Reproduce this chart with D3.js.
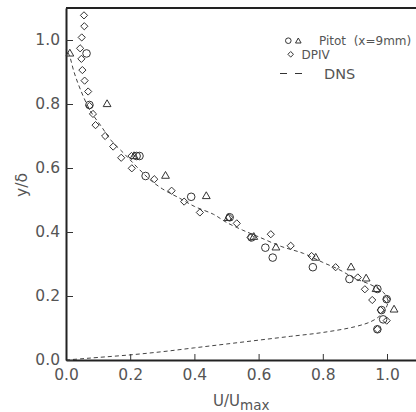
<!DOCTYPE html>
<html><head><meta charset="utf-8">
<script src="https://cdn.jsdelivr.net/npm/d3@7"></script>
<style>body{margin:0;background:#fff;} svg{display:block;font-family:"DejaVu Sans",sans-serif;} text{white-space:pre;}</style>
</head><body>
<svg id="c" width="416" height="412"></svg>
<script>
// Pitot circles (u, y)
const pitotCircleU = [0.064,0.073,0.220,0.229,0.248,0.390,0.510,0.578,0.621,0.644,0.769,0.883,0.970,0.999,0.983,0.988,0.970];
const pitotCircleY = [0.958,0.797,0.6375,0.6375,0.575,0.510,0.446,0.383,0.351,0.320,0.290,0.253,0.222,0.190,0.156,0.127,0.096];
// Pitot triangles
const pitotTriU = [0.012,0.128,0.212,0.310,0.437,0.505,0.585,0.654,0.778,0.888,0.935,0.966,1.022];
const pitotTriY = [0.958,0.800,0.6375,0.576,0.5125,0.444,0.385,0.352,0.320,0.290,0.255,0.222,0.158];
// DPIV diamonds
const dpivU = [0.056,0.057,0.049,0.044,0.048,0.051,0.058,0.069,0.073,0.084,0.092,0.122,0.147,0.172,0.204,0.205,0.275,0.329,0.368,0.417,0.508,0.532,0.575,0.638,0.700,0.765,0.840,0.909,0.931,0.954,0.999,0.980,0.999,0.970];
const dpivY = [1.077,1.043,1.008,0.974,0.941,0.906,0.873,0.839,0.794,0.769,0.734,0.700,0.667,0.632,0.6375,0.599,0.565,0.529,0.495,0.461,0.446,0.427,0.383,0.393,0.357,0.325,0.290,0.258,0.221,0.1875,0.190,0.156,0.123,0.096];
// DNS profile
const dnsU = [0.0,0.05,0.1,0.2,0.3,0.4,0.5,0.6,0.7,0.8,0.9,0.95,0.98,0.998,1.003,0.99,0.95,0.9,0.85,0.8,0.74,0.67,0.6,0.55,0.5,0.46,0.4,0.355,0.3,0.26,0.23,0.2,0.18,0.14,0.11,0.075,0.045,0.025,0.01,0.0];
const dnsY = [0.0,0.004,0.008,0.016,0.026,0.038,0.05,0.062,0.074,0.086,0.104,0.12,0.14,0.165,0.185,0.21,0.235,0.255,0.283,0.305,0.333,0.355,0.385,0.406,0.43,0.455,0.48,0.505,0.535,0.565,0.594,0.625,0.646,0.687,0.73,0.78,0.845,0.9,0.953,0.97];
const xTicks = [0,0.2,0.4,0.6,0.8,1.0];
const yTicks = [0,0.2,0.4,0.6,0.8,1.0];

const svg = d3.select("#c");
const x = d3.scaleLinear().domain([0,1.1]).range([66,419.1]);
const y = d3.scaleLinear().domain([0,1.1]).range([360,8]);
const txt = "#555";

// DNS line
const dns = dnsU.map((u,i)=>[u,dnsY[i]]);
svg.append("path").datum(dns)
  .attr("d", d3.line().x(d=>x(d[0])).y(d=>y(d[1])).curve(d3.curveCatmullRom.alpha(0.5)))
  .attr("fill","none").attr("stroke","#444").attr("stroke-width",1).attr("stroke-dasharray","4,3");

// axes
const xAxis = d3.axisBottom(x).tickValues(xTicks).tickFormat(d3.format(".1f")).tickSizeInner(-6).tickSizeOuter(0).tickPadding(9);
const gx = svg.append("g").attr("transform","translate(0,360)").call(xAxis);
const yAxis = d3.axisLeft(y).tickValues(yTicks).tickFormat(d3.format(".1f")).tickSizeInner(-7).tickSizeOuter(0).tickPadding(6);
const gy = svg.append("g").attr("transform","translate(66,0)").call(yAxis);
[gx,gy].forEach(g=>{
  g.select(".domain").attr("stroke","#222").attr("stroke-width",2);
  g.selectAll(".tick line").attr("stroke","#333").attr("stroke-width",1);
  g.selectAll(".tick text").attr("fill",txt).attr("font-size",15.5).attr("font-family","DejaVu Sans, sans-serif");
});
// top frame line
svg.append("line").attr("x1",x(0)).attr("x2",416).attr("y1",y(1.1)).attr("y2",y(1.1)).attr("stroke","#222").attr("stroke-width",2);

// axis titles
svg.append("text").attr("transform","translate(27,185) rotate(-90)").attr("text-anchor","middle")
  .attr("fill",txt).attr("font-size",15.5).text("y/δ");
const xt = svg.append("text").attr("x",213).attr("y",406).attr("fill",txt).attr("font-size",15);
xt.append("tspan").text("U/U");
xt.append("tspan").attr("dy",4).attr("font-size",13.5).text("max");

// markers
const g = svg.append("g").attr("fill","none").attr("stroke","#333").attr("stroke-width",1);
const circ = pitotCircleU.map((u,i)=>[u,pitotCircleY[i]]);
const tri = pitotTriU.map((u,i)=>[u,pitotTriY[i]]);
const dia = dpivU.map((u,i)=>[u,dpivY[i]]);
g.selectAll("circle.p").data(circ).join("circle").attr("cx",d=>x(d[0])).attr("cy",d=>y(d[1])).attr("r",3.8);
const triPath = "M0,-4.2L3.9,2.6L-3.9,2.6Z";
g.selectAll("path.t").data(tri).join("path").attr("class","t").attr("d",triPath)
  .attr("transform",d=>`translate(${x(d[0])},${y(d[1])})`);
const diaPath = "M0,-3.6L3.6,0L0,3.6L-3.6,0Z";
g.selectAll("path.d").data(dia).join("path").attr("class","d").attr("d",diaPath)
  .attr("transform",d=>`translate(${x(d[0])},${y(d[1])})`);

// legend
const lg = svg.append("g");
lg.append("circle").attr("cx",288.3).attr("cy",40.7).attr("r",2.8).attr("fill","none").attr("stroke","#333");
lg.append("path").attr("d","M0,-3L2.8,2L-2.8,2Z").attr("transform","translate(298.3,41)").attr("fill","none").attr("stroke","#333");
lg.append("text").attr("x",319).attr("y",45).attr("fill",txt).attr("font-size",12).text("Pitot  (x=9mm)");
lg.append("path").attr("d","M0,-2.8L2.8,0L0,2.8L-2.8,0Z").attr("transform","translate(290.7,54.3)").attr("fill","none").attr("stroke","#333");
lg.append("text").attr("x",301.5).attr("y",58.7).attr("fill",txt).attr("font-size",12).text("DPIV");
lg.append("line").attr("x1",280).attr("x2",302).attr("y1",73.5).attr("y2",73.5).attr("stroke","#333").attr("stroke-dasharray","7,8");
lg.append("text").attr("x",324).attr("y",78.8).attr("fill",txt).attr("font-size",14.5).text("DNS");
</script>
</body></html>
